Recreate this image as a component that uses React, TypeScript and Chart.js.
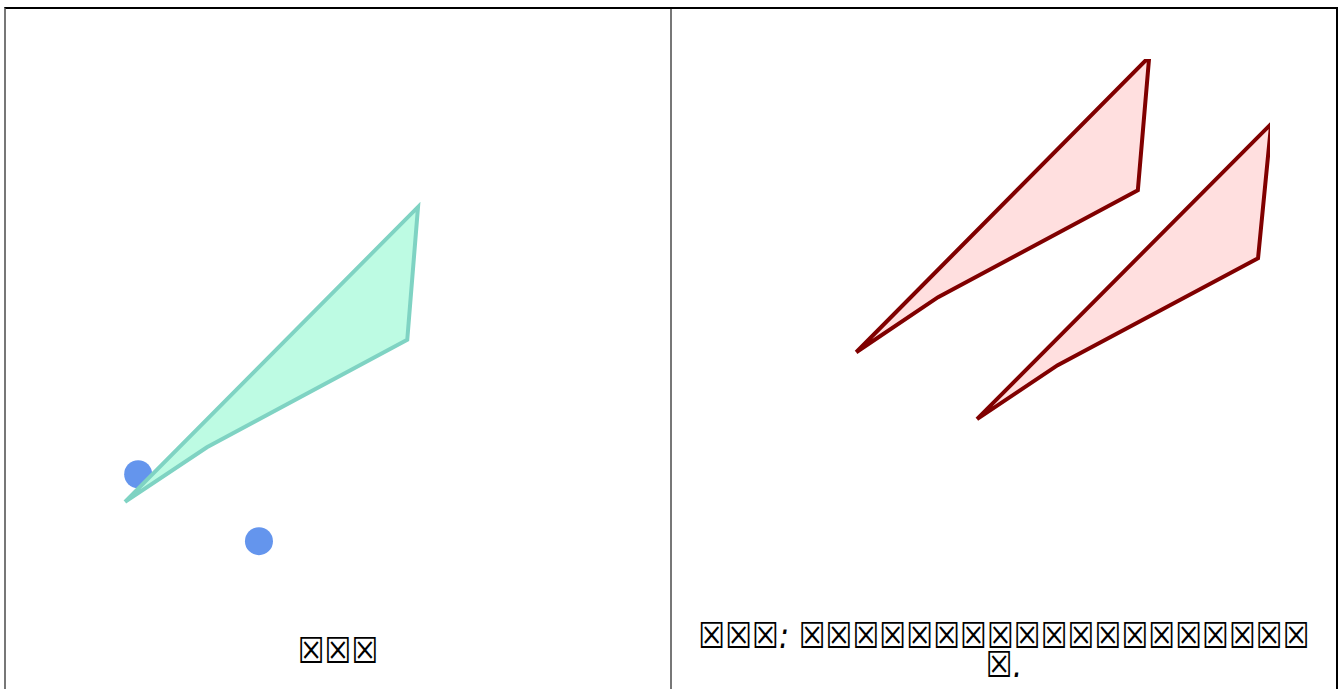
import React, { useEffect, useRef } from "react";
import { Chart, registerables } from "chart.js";

Chart.register(...registerables);

// Left panel: one polygon and two points
const leftPolyX = [19.9, 68.9, 67.1, 33.6, 19.9];
const leftPolyY = [18.0, 72.6, 48.0, 28.1, 18.0];
const dotsX = [22.1, 42.3];
const dotsY = [23.1, 10.7];

// Right panel: two polygons
const rightPolyAX = [30.8, 79.8, 77.9, 44.5, 30.8];
const rightPolyAY = [45.7, 100.4, 75.7, 55.9, 45.7];
const rightPolyBX = [51.0, 100.2, 98.0, 64.5, 51.0];
const rightPolyBY = [33.3, 88.0, 63.1, 43.3, 33.3];

// Captions (the reference shows only missing-glyph boxes)
const B = "\u2612";
const leftCaption = B.repeat(3);
const rightCaption = B.repeat(3) + ": " + B.repeat(20) + ".";

const zip = (xs: number[], ys: number[]) => xs.map((x, i) => ({ x, y: ys[i] }));

function makeOptions(): any {
  return {
    animation: false,
    responsive: false,
    layout: { autoPadding: false, padding: { left: 0, right: 66, top: 50, bottom: 10 } },
    plugins: { legend: { display: false }, tooltip: { enabled: false } },
    scales: {
      x: { type: "linear", min: 0, max: 100, display: false },
      y: { type: "linear", min: 0, max: 100, display: false },
    },
  };
}

function PanelChart({ datasets }: { datasets: any[] }) {
  const ref = useRef<HTMLCanvasElement | null>(null);
  useEffect(() => {
    if (!ref.current) return;
    const chart = new Chart(ref.current, {
      type: "scatter",
      data: { datasets },
      options: makeOptions(),
    });
    return () => chart.destroy();
  }, []);
  return <canvas ref={ref} width={664} height={600} style={{ display: "block" }} />;
}

export default function App() {
  const leftSets = [
    {
      type: "line",
      data: zip(leftPolyX, leftPolyY),
      showLine: true,
      fill: "shape",
      backgroundColor: "#bdfbe3",
      borderColor: "#7fd3c3",
      borderWidth: 4,
      pointRadius: 0,
      tension: 0,
      clip: 0,
      order: 0,
    },
    {
      type: "scatter",
      data: zip(dotsX, dotsY),
      backgroundColor: "#6495ed",
      borderWidth: 0,
      pointRadius: 14,
      order: 1,
    },
  ];
  const rightSets = [rightPolyAX, rightPolyBX].map((xs, i) => ({
    type: "line",
    data: zip(xs, i === 0 ? rightPolyAY : rightPolyBY),
    showLine: true,
    fill: "shape",
    backgroundColor: "#ffdfdf",
    borderColor: "#800000",
    borderWidth: 4,
    pointRadius: 0,
    tension: 0,
    clip: 0,
  }));

  const panel: React.CSSProperties = {
    position: "relative",
    width: 664,
    height: 700,
  };
  const caption: React.CSSProperties = {
    position: "absolute",
    left: 26,
    width: 612,
    textAlign: "center",
    fontFamily: "'DejaVu Sans'",
    fontSize: 30,
    lineHeight: "23.5px",
    transform: "scaleY(1.2)",
    transformOrigin: "top",
    wordBreak: "break-all",
    color: "#000",
  };

  return (
    <div
      style={{
        position: "absolute",
        left: 4,
        top: 7,
        display: "flex",
        borderTop: "2px solid #000",
        borderLeft: "2px solid #777",
        borderRight: "2px solid #000",
        background: "#fff",
      }}
    >
      <div style={panel}>
        <PanelChart datasets={leftSets} />
        <div style={{ ...caption, top: 628 }}>{leftCaption}</div>
      </div>
      <div style={{ width: 2, background: "#777" }} />
      <div style={panel}>
        <PanelChart datasets={rightSets} />
        <div style={{ ...caption, top: 613, fontStyle: "italic" }}>{rightCaption}</div>
      </div>
    </div>
  );
}
